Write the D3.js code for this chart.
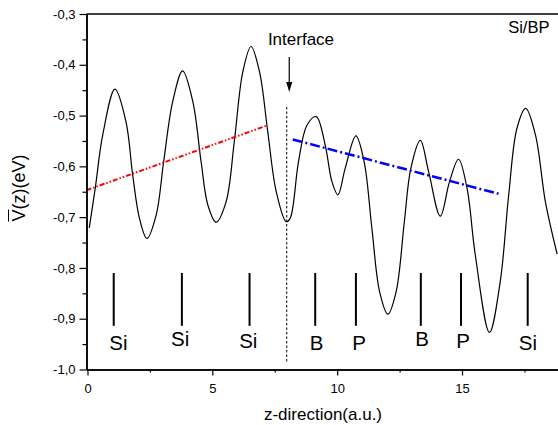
<!DOCTYPE html>
<html><head><meta charset="utf-8">
<script src="https://cdn.jsdelivr.net/npm/d3@7"></script>
<style>
body{margin:0;background:#fff}
svg{display:block}
text{font-family:"Liberation Sans",Arial,Helvetica,sans-serif;fill:#000}
</style>
</head><body>
<svg id="chart" width="558" height="425"></svg>
<script>
// ---- data ----
const zValues = [0.07,0.31,0.61,1.10,1.54,1.81,2.08,2.38,2.75,3.05,3.41,3.81,4.22,4.55,4.82,5.15,5.55,5.88,6.22,6.55,6.89,7.22,7.56,7.96,
  8.12,8.45,8.79,9.16,9.52,9.79,10.03,10.32,10.75,11.08,11.39,11.70,12.03,12.36,12.69,12.95,13.33,13.66,14.13,14.50,14.86,15.20,15.53,16.10,16.53,16.87,17.20,17.55,17.94,18.34,18.81];
const potential = [-0.721,-0.643,-0.538,-0.448,-0.512,-0.617,-0.702,-0.742,-0.696,-0.591,-0.473,-0.412,-0.473,-0.591,-0.676,-0.710,-0.670,-0.551,-0.414,-0.364,-0.414,-0.532,-0.650,-0.709,
  -0.702,-0.591,-0.519,-0.502,-0.558,-0.630,-0.656,-0.604,-0.540,-0.591,-0.722,-0.847,-0.891,-0.847,-0.709,-0.604,-0.549,-0.610,-0.698,-0.630,-0.586,-0.643,-0.774,-0.927,-0.827,-0.656,-0.525,-0.486,-0.538,-0.670,-0.773];

const redTrendZ = [-0.04, 7.22];
const redTrendV = [-0.647, -0.519];
const blueTrendZ = [8.22, 16.46];
const blueTrendV = [-0.547, -0.654];

const atomNames = ["Si","Si","Si","B","P","B","P","Si"];
const atomZ = [1.05, 3.78, 6.49, 9.12, 10.75, 13.35, 14.96, 17.63];
const atomLabelZ = [1.24, 3.71, 6.44, 9.18, 10.88, 13.40, 15.04, 17.64];
const atomLabelV = [-0.9616, -0.9545, -0.9578, -0.9616, -0.9616, -0.9545, -0.9578, -0.9616];
const atomBarV = [-0.810, -0.914];

const interfaceZ = 7.98;
const interfaceLineV = [-0.483, -0.987];
const arrowZ = 8.08;
const arrowV = [-0.3847, -0.4536];

const xMajorTicks = [0, 5, 10, 15];
const xMinorTicks = [2.5, 7.5, 12.5, 17.5];
const yMajorTicks = [-1.0, -0.9, -0.8, -0.7, -0.6, -0.5, -0.4, -0.3];
const yTickLabels = ["-1,0", "-0,9", "-0,8", "-0,7", "-0,6", "-0,5", "-0,4", "-0,3"];
const yMinorTicks = [-0.95, -0.85, -0.75, -0.65, -0.55, -0.45, -0.35];

// ---- drawing ----
const svg = d3.select("#chart");
const x = d3.scaleLinear().domain([-0.04, 18.9]).range([86.5, 559.4]);
const y = d3.scaleLinear().domain([-1.0, -0.3]).range([369.5, 14]);

// top frame line
svg.append("line").attr("x1", x(-0.04)).attr("x2", 560).attr("y1", y(-0.3)).attr("y2", y(-0.3))
  .attr("stroke", "#000").attr("stroke-width", 1.5);

// potential curve
const line = d3.line().x((d, i) => x(zValues[i])).y(d => y(d)).curve(d3.curveCatmullRom.alpha(0.5));
svg.append("path").attr("d", line(potential)).attr("fill", "none").attr("stroke", "#000").attr("stroke-width", 1.2);

// trend lines
const tl = d3.line().x((d, i) => x(d[0])).y(d => y(d[1]));
svg.append("path").attr("d", tl(redTrendZ.map((z, i) => [z, redTrendV[i]])))
  .attr("stroke", "#ff0000").attr("stroke-width", 2).attr("fill", "none")
  .attr("stroke-dasharray", "5,2,1.5,2,1.5,2");
svg.append("path").attr("d", tl(blueTrendZ.map((z, i) => [z, blueTrendV[i]])))
  .attr("stroke", "#0000ff").attr("stroke-width", 2.5).attr("fill", "none")
  .attr("stroke-dasharray", "10,3,2,3");

// interface dashed line
svg.append("line").attr("x1", x(interfaceZ)).attr("x2", x(interfaceZ))
  .attr("y1", y(interfaceLineV[0])).attr("y2", y(interfaceLineV[1]))
  .attr("stroke", "#000").attr("stroke-width", 1).attr("stroke-dasharray", "2.5,2");

// arrow
const ax = x(arrowZ), ay0 = y(arrowV[0]), ay1 = y(arrowV[1]);
svg.append("line").attr("x1", ax).attr("x2", ax).attr("y1", ay0).attr("y2", ay1 - 6)
  .attr("stroke", "#000").attr("stroke-width", 1.2);
svg.append("path").attr("d", `M${ax - 3},${ay1 - 10}L${ax + 3},${ay1 - 10}L${ax},${ay1}Z`).attr("fill", "#000");
svg.append("text").attr("x", x(8.55)).attr("y", y(-0.361)).attr("text-anchor", "middle")
  .style("font-size", "17px").text("Interface");

svg.append("text").attr("x", x(18.50)).attr("y", y(-0.338)).attr("text-anchor", "end")
  .style("font-size", "16.5px").text("Si/BP");

// atom markers
atomZ.forEach((z, i) => {
  svg.append("line").attr("x1", x(z)).attr("x2", x(z)).attr("y1", y(atomBarV[0])).attr("y2", y(atomBarV[1]))
    .attr("stroke", "#000").attr("stroke-width", 2);
  svg.append("text").attr("x", x(atomLabelZ[i])).attr("y", y(atomLabelV[i])).attr("text-anchor", "middle")
    .style("font-size", "20.5px").text(atomNames[i]);
});

// axes
const gx = svg.append("g").attr("transform", `translate(0,${y(-1.0)})`)
  .call(d3.axisBottom(x).tickValues(xMajorTicks).tickSize(6).tickSizeOuter(0).tickPadding(8).tickFormat(d => String(d)));
const gxm = svg.append("g").attr("transform", `translate(0,${y(-1.0)})`)
  .call(d3.axisBottom(x).tickValues(xMinorTicks).tickSize(3).tickSizeOuter(0).tickFormat(""));
const gy = svg.append("g").attr("transform", `translate(${x(-0.04)},0)`)
  .call(d3.axisLeft(y).tickValues(yMajorTicks).tickSize(7).tickSizeOuter(0).tickPadding(4)
    .tickFormat((d, i) => yTickLabels[i]));
const gym = svg.append("g").attr("transform", `translate(${x(-0.04)},0)`)
  .call(d3.axisLeft(y).tickValues(yMinorTicks).tickSize(4).tickSizeOuter(0).tickFormat(""));
[gx, gxm, gy, gym].forEach(g => {
  g.selectAll("path.domain").attr("stroke", "#000").attr("stroke-width", 1.5);
  g.selectAll(".tick line").attr("stroke", "#000").attr("stroke-width", 1.2);
  g.selectAll(".tick text").style("font-size", "13px").style("font-family", '"Liberation Sans",Arial,sans-serif').attr("fill", "#000");
});

// axis titles
svg.append("text").attr("x", 323).attr("y", 420).attr("text-anchor", "middle")
  .style("font-size", "17px").text("z-direction(a.u.)");

const yt = svg.append("g").attr("transform", "translate(25,188) rotate(-90)");
const ytText = yt.append("text").attr("x", 0).attr("y", 0).attr("text-anchor", "middle").style("font-size", "18px");
ytText.append("tspan").text("V");
ytText.append("tspan").text("(z)(eV)");
const node = ytText.node();
const total = node.getComputedTextLength();
const vw = node.getSubStringLength(0, 1);
yt.append("line").attr("x1", -total / 2).attr("x2", -total / 2 + vw)
  .attr("y1", -16.5).attr("y2", -16.5).attr("stroke", "#000").attr("stroke-width", 1);
</script>
</body></html>
